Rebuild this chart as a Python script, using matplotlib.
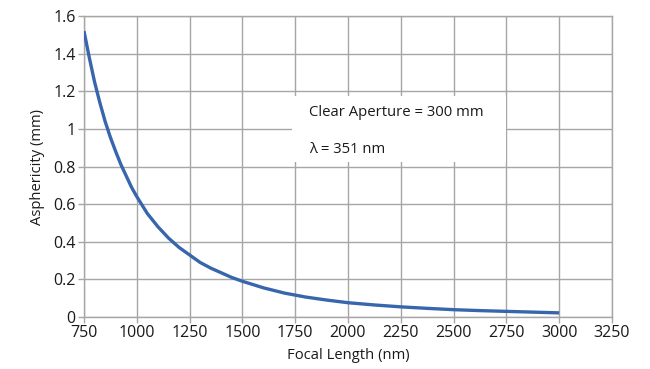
import matplotlib
matplotlib.use("Agg")
import matplotlib.pyplot as plt
from matplotlib.patches import Rectangle

# values
focal_length = [750, 775, 800, 825, 850, 875, 900, 925, 950, 975, 1000,
                1050, 1100, 1150, 1200, 1250, 1300, 1350, 1400, 1450, 1500,
                1600, 1700, 1800, 1900, 2000, 2125, 2250, 2375, 2500, 2625,
                2750, 2875, 3000]
asphericity = [1.52, 1.38, 1.25, 1.14, 1.04, 0.955, 0.88, 0.81, 0.75, 0.69,
               0.64, 0.55, 0.48, 0.42, 0.37, 0.33, 0.29, 0.26, 0.235, 0.21,
               0.19, 0.155, 0.127, 0.106, 0.09, 0.076, 0.064, 0.054, 0.046,
               0.039, 0.034, 0.03, 0.026, 0.022]
x_ticks = [750, 1000, 1250, 1500, 1750, 2000, 2250, 2500, 2750, 3000, 3250]
y_ticks = [0, 0.2, 0.4, 0.6, 0.8, 1.0, 1.2, 1.4, 1.6]
y_tick_labels = ["0", "0.2", "0.4", "0.6", "0.8", "1", "1.2", "1.4", "1.6"]
notes = ["Clear Aperture = 300 mm", "λ = 351 nm"]

plt.rcParams["font.family"] = ["Open Sans", "DejaVu Sans"]

fig = plt.figure(figsize=(6.5, 3.69), dpi=100)
ax = fig.add_axes([0.1292, 0.1409, 0.8123, 0.8157])

grid_color = "#a6a6a6"
ax.plot(focal_length, asphericity, color="#3766ad", linewidth=2.4,
        solid_capstyle="butt", solid_joinstyle="round", zorder=4)

ax.set_xlim(750, 3250)
ax.set_ylim(0, 1.6)
ax.set_xticks(x_ticks)
ax.set_yticks(y_ticks)
ax.set_yticklabels(y_tick_labels)
ax.grid(True, color=grid_color, linewidth=1.0, zorder=0)
ax.set_axisbelow(True)
for s in ax.spines.values():
    s.set_color(grid_color)
    s.set_linewidth(1.0)
ax.tick_params(axis="both", colors=grid_color, labelcolor="#1a1a1a",
               labelsize=11.5, length=4, width=1.0, pad=2)

# white label box covering the grid
ax.add_patch(Rectangle((0.394, 0.515), 0.405, 0.219, transform=ax.transAxes,
                       facecolor="white", edgecolor="none", zorder=2))
ax.text(0.426, 0.678, notes[0], transform=ax.transAxes, fontsize=10.7,
        va="center", ha="left", color="#1a1a1a", zorder=3)
ax.text(0.426, 0.555, notes[1], transform=ax.transAxes, fontsize=10.7,
        va="center", ha="left", color="#1a1a1a", zorder=3)

ax.set_xlabel("Focal Length (nm)", fontsize=10.6, color="#1a1a1a", labelpad=5)
ax.set_ylabel("Asphericity (mm)", fontsize=10.6, color="#1a1a1a", labelpad=6)

fig.savefig("out.png", dpi=100)
